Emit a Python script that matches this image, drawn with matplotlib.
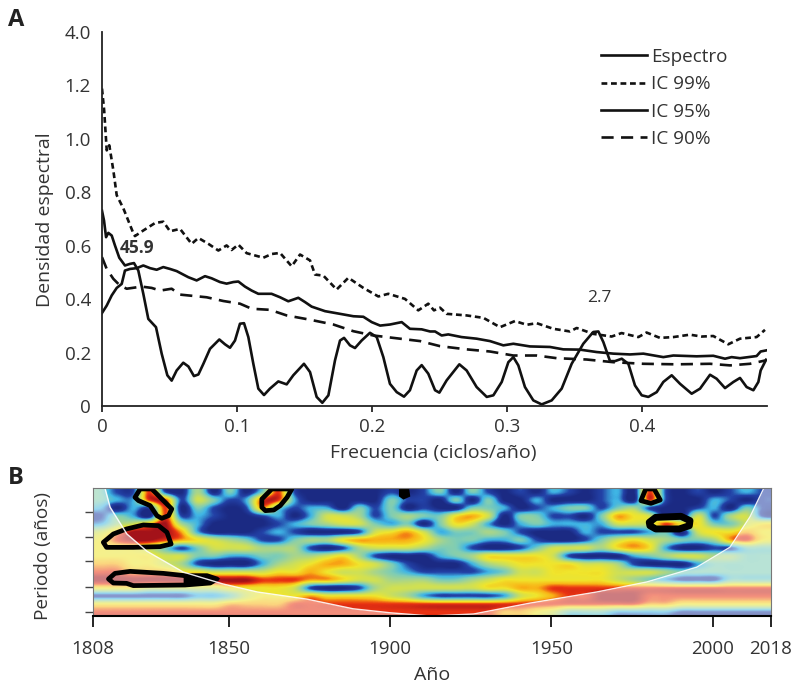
import numpy as np
import matplotlib
matplotlib.use("Agg")
import matplotlib.pyplot as plt
from matplotlib.colors import LinearSegmentedColormap

plt.rcParams['font.family'] = ['Open Sans', 'DejaVu Sans']
TXT = '#333333'

# panel A, values
spec_f = [0, .0015, .003, .0047, .0072, .0096, .0128, .017, .0207, .0237, .0269, .0306, .0343, .04, .0442, .0484, .0516, .0553, .0602, .064, .0681, .0714, .0751, .08, .0869, .0911, .0948, .0985, .1022, .1052, .1084, .1121, .1158, .12, .1244, .1306, .1368, .1417, .1496, .1541, .159, .1632, .1677, .1726, .1763, .1793, .1837, .1874, .1923, .1985, .2035, .2084, .2133, .2183, .2237, .2281, .2331, .2368, .2417, .2467, .2499, .2553, .2647, .2701, .2775, .285, .2899, .2961, .301, .3047, .3084, .3133, .3195, .3257, .3331, .3405, .3479, .3565, .3639, .3677, .3714, .3763, .38, .385, .3899, .3948, .3998, .4047, .4109, .4158, .422, .4282, .4368, .443, .4504, .4553, .4615, .4677, .4726, .4775, .4825, .4862, .4879, .4919]
spec_d = [.731, .694, .632, .648, .638, .601, .555, .526, .532, .535, .507, .42, .326, .295, .196, .115, .095, .133, .162, .148, .112, .118, .158, .214, .249, .231, .218, .245, .308, .31, .258, .158, .065, .041, .065, .092, .081, .115, .158, .127, .034, .012, .04, .171, .245, .255, .227, .217, .245, .274, .258, .183, .083, .052, .035, .059, .133, .153, .121, .059, .05, .096, .156, .133, .071, .034, .04, .09, .164, .183, .152, .071, .021, .006, .021, .065, .158, .233, .277, .279, .239, .168, .168, .177, .158, .077, .04, .034, .052, .09, .115, .083, .046, .065, .117, .102, .067, .09, .105, .071, .059, .09, .133, .173]

ic99_f = [0, .0016, .0035, .0054, .0084, .0109, .0158, .0232, .0244, .0306, .0393, .0454, .0504, .0578, .0664, .0714, .0788, .0862, .0923, .096, .101, .1072, .1195, .1257, .1319, .1405, .1467, .1541, .1578, .164, .1738, .1825, .1936, .2047, .2121, .2244, .2343, .2417, .2459, .2504, .2553, .2701, .2825, .2948, .3059, .3146, .322, .3343, .3467, .3516, .3639, .3775, .3849, .3973, .4034, .4133, .4232, .4355, .4442, .4528, .4639, .4726, .4849, .4911]
ic99_d = [1.188, 1.107, .957, .976, .882, .789, .74, .647, .636, .657, .685, .69, .654, .663, .607, .629, .607, .582, .601, .584, .604, .572, .555, .569, .573, .523, .567, .545, .492, .488, .436, .48, .442, .41, .42, .401, .358, .383, .358, .368, .345, .339, .33, .295, .318, .304, .31, .289, .279, .292, .27, .26, .273, .258, .275, .255, .258, .267, .26, .262, .231, .252, .258, .285]

ic95_f = [0, .0035, .0072, .0109, .0146, .017, .0207, .0257, .0306, .0356, .0405, .0454, .0504, .0553, .0602, .064, .0701, .0763, .0812, .0874, .0923, .0973, .101, .1059, .1109, .1158, .1256, .1319, .138, .1454, .1504, .1553, .1652, .1763, .1862, .1936, .1998, .206, .2133, .222, .2281, .2368, .243, .2467, .2516, .2565, .2664, .2775, .2874, .2973, .3047, .317, .3318, .3417, .3541, .3664, .3788, .3911, .401, .4158, .4232, .4405, .4528, .4615, .4664, .4726, .4849, .4879, .4919]
ic95_d = [.348, .376, .414, .442, .457, .507, .513, .516, .526, .516, .51, .52, .513, .505, .492, .482, .47, .486, .478, .464, .458, .464, .466, .447, .432, .42, .42, .407, .392, .405, .389, .372, .355, .345, .336, .334, .314, .301, .305, .314, .289, .287, .279, .279, .264, .268, .258, .252, .243, .227, .233, .223, .221, .212, .211, .202, .196, .193, .196, .183, .189, .186, .188, .177, .183, .179, .187, .204, .208]

ic90_f = [0, .0035, .0084, .0133, .0183, .0294, .0368, .043, .0516, .0578, .0775, .0899, .1022, .1109, .1244, .1368, .1541, .1714, .1862, .201, .2207, .2356, .2504, .2701, .2874, .3047, .322, .3368, .359, .3788, .401, .4257, .4504, .4652, .48, .4919]
ic90_d = [.557, .513, .476, .451, .439, .447, .442, .432, .439, .417, .407, .393, .383, .364, .36, .339, .323, .305, .28, .264, .252, .243, .224, .212, .204, .189, .189, .179, .174, .164, .158, .156, .158, .152, .158, .171]

# the y axis is broken: the top label stands for 4.0
y_pos = [0, .2, .4, .6, .8, 1.0, 1.2, 1.4]
y_lab = ['0', '0.2', '0.4', '0.6', '0.8', '1.0', '1.2', '4.0']
x_pos = [0, .1, .2, .3, .4]
x_lab = ['0', '0.1', '0.2', '0.3', '0.4']

# panel B, wavelet power per 5-year column (0 low .. 9 high), rows top to bottom
power_rows = [
    "3118104030" "3810000010" "1303101021" "0120810101" "21",
    "3228815312" "8820000031" "1030300200" "0120810021" "01",
    "2021803101" "7312203130" "1003320123" "3134100120" "31",
    "1320812100" "1202554134" "3367503311" "0376500514" "51",
    "2457942000" "0123455323" "0365202322" "2255586633" "56",
    "5799972000" "1210001567" "5233431000" "2111230566" "76",
    "6899876543" "1134467777" "6433223100" "1356543347" "86",
    "6665313555" "4441014555" "4331001355" "5467620011" "33",
    "6666553322" "3344564100" "0234666651" "0002345544" "33",
    "7766541000" "2456776531" "0002456666" "5541000233" "33",
    "8877766555" "5667655432" "1111235566" "6655543333" "33",
    "9999999999" "8887765544" "4334566666" "6654321113" "33",
    "6665555566" "6651001455" "5555667788" "8888888888" "88",
    "1111112235" "6667666654" "2111125678" "8999888888" "88",
    "6666666677" "7788888888" "8888888888" "8888776666" "66",
    "8888888888" "8888888888" "8888877653" "3322221111" "11",
]
years = [1808, 1850, 1900, 1950, 2000, 2018]
period_ticks = [3, 6.1, 9.1, 12.4, 15.5]

# cone of influence
cone_year = [1808, 1811.7, 1813.3, 1818.5, 1824.7, 1835.9, 1848.3, 1858.9, 1874.4, 1888.6, 1900.1, 1912.5, 1925.9, 1943.2, 1964, 1979.5, 1995, 2005.3, 2011.5, 2015.8, 2018]
cone_depth = [0, 0, 2.4, 5.75, 7.9, 10.5, 12, 13, 13.9, 15.1, 15.6, 16, 15.75, 14.4, 13, 11.75, 9.9, 7.4, 3.6, 0, 0]

# significance outlines (year, row depth)
sig_a = [(1821.0, 1.17), (1822.6, .12), (1826.2, .12), (1828.8, 1.17), (1832.4, 2.62), (1831.4, 3.46), (1829.3, 3.79), (1827.8, 3.46), (1825.7, 2.2), (1822.1, 1.58)]
sig_b = [(1860.3, 2.42), (1860.3, 1.38), (1863.4, .12), (1869.6, .12), (1868.1, 1.17), (1866, 2.2), (1864, 2.75), (1861.4, 2.83)]
sig_c = [(1811.2, 6.79), (1814.3, 5.75), (1818.4, 5.12), (1823.6, 4.62), (1828.3, 4.71), (1830.9, 5.54), (1832.2, 7), (1828.8, 7.33), (1820.5, 7.42), (1812.2, 7.42)]
sig_d = [(1812.8, 11.375), (1814.8, 10.67), (1819.5, 10.42), (1829.8, 10.67), (1836.5, 10.96), (1843.3, 10.96), (1846.4, 11.375), (1844.3, 11.875), (1836.5, 12.125), (1820.5, 12.2), (1818.4, 11.92), (1814.3, 11.875)]
sig_e = [(1977.7, 1.58), (1979.2, .12), (1981.8, .12), (1983.7, 1.5), (1980.8, 1.92)]
sig_f = [(1980.3, 4.29), (1982.3, 3.67), (1990.1, 3.54), (1992.9, 4.08), (1992.7, 4.71), (1989.6, 5.12), (1982.3, 5.12), (1980.5, 4.71)]
solid_d = [(1836.5, 10.96), (1843.3, 10.96), (1846.4, 11.375), (1844.3, 11.875), (1836.5, 12.125)]
solid_g = [(1903.2, .12), (1905.5, .12), (1905.8, .96), (1904.2, 1.25), (1903.2, .96)]

W, H = 796, 686
fig = plt.figure(figsize=(W / 100, H / 100), dpi=100)

# --- A ---
ax = fig.add_axes([102 / W, 1 - 406 / H, 665 / W, 374 / H])
lw = 1.9
ax.plot(spec_f, spec_d, color='#111111', lw=lw, label='Espectro')
ax.plot(ic99_f, ic99_d, color='#111111', lw=lw, dashes=(2.2, 1.4), label='IC 99%')
ax.plot(ic95_f, ic95_d, color='#111111', lw=lw, label='IC 95%')
ax.plot(ic90_f, ic90_d, color='#111111', lw=lw, dashes=(4.6, 2.8), label='IC 90%')
ax.set_xlim(0, .4926)
ax.set_ylim(0, 1.4)
ax.set_xticks(x_pos, x_lab)
ax.set_yticks(y_pos, y_lab)
ax.tick_params(axis='x', length=4, width=1.1, labelsize=13.5, labelcolor=TXT, pad=5)
ax.tick_params(axis='y', length=0, labelsize=13.5, labelcolor=TXT, pad=8)
ax.spines[['top', 'right']].set_visible(False)
ax.spines[['left', 'bottom']].set_linewidth(1.3)
ax.spines[['left', 'bottom']].set_color('#222222')
ax.text(.0258, .59, '45.9', fontsize=12.5, fontweight='bold', color=TXT, ha='center', va='center')
ax.text(.3687, .405, '2.7', fontsize=12.5, color=TXT, ha='center', va='center')
ax.legend(loc='upper left', bbox_to_anchor=(.7505, .957), frameon=False, fontsize=13.6, labelcolor=TXT,
          handlelength=2.44, handletextpad=.2, labelspacing=.49, borderpad=0, borderaxespad=0)
fig.text(45 / W, 1 - 220 / H, 'Densidad espectral', rotation=90, fontsize=14, color=TXT, ha='center', va='center')
fig.text(433 / W, 1 - 453 / H, 'Frecuencia (ciclos/año)', fontsize=14, color=TXT, ha='center', va='center')

# --- B ---
cmap = LinearSegmentedColormap.from_list('wave', ['#1b2a83', '#2341a6', '#3fb5e5', '#7fcdb5', '#a9d58a',
                                                  '#cfe055', '#f0e52c', '#f9b316', '#ea3312', '#a31219'])
power = np.array([[int(c) for c in row] for row in power_rows])
bx = fig.add_axes([93 / W, 1 - 616 / H, 678 / W, 128 / H])
bx.imshow(power, extent=(1808, 2018, 16, 0), aspect='auto', cmap=cmap, vmin=0, vmax=9,
          interpolation='catrom', interpolation_stage='data')
bx.fill_between(cone_year, cone_depth, 16, color='white', alpha=.45, lw=0)
bx.plot(cone_year, cone_depth, color='white', lw=1, alpha=.9)
for sig in [sig_a, sig_b, sig_c, sig_d, sig_e]:
    xs, ys = zip(*sig)
    bx.fill(xs, ys, fill=False, edgecolor='black', lw=3.4, joinstyle='round')
xs, ys = zip(*sig_f)
bx.fill(xs, ys, fill=False, edgecolor='black', lw=5, joinstyle='round')
for sig in [solid_d, solid_g]:
    xs, ys = zip(*sig)
    bx.fill(xs, ys, color='black', lw=2)
bx.set_xlim(1808, 2018)
bx.set_ylim(16, 0)
bx.set_xticks(years, [str(y) for y in years])
bx.set_yticks(period_ticks, [])
bx.tick_params(axis='x', length=8, width=1.2, labelsize=13.5, labelcolor=TXT, pad=9)
bx.tick_params(axis='y', length=6, width=1, color='#444444')
bx.spines[['top', 'left', 'right']].set_color('#777777')
bx.spines[['top', 'left', 'right']].set_linewidth(.8)
bx.spines['bottom'].set_linewidth(1.5)
fig.text(43 / W, 1 - 556 / H, 'Periodo (años)', rotation=90, fontsize=13.7, color=TXT, ha='center', va='center')
fig.text(432 / W, 1 - 675 / H, 'Año', fontsize=14, color=TXT, ha='center', va='center')

fig.text(16 / W, 1 - 20 / H, 'A', fontsize=17, fontweight='bold', color='#222222', ha='center', va='center')
fig.text(16 / W, 1 - 478 / H, 'B', fontsize=17, fontweight='bold', color='#222222', ha='center', va='center')

fig.savefig('out.png', dpi=100)
